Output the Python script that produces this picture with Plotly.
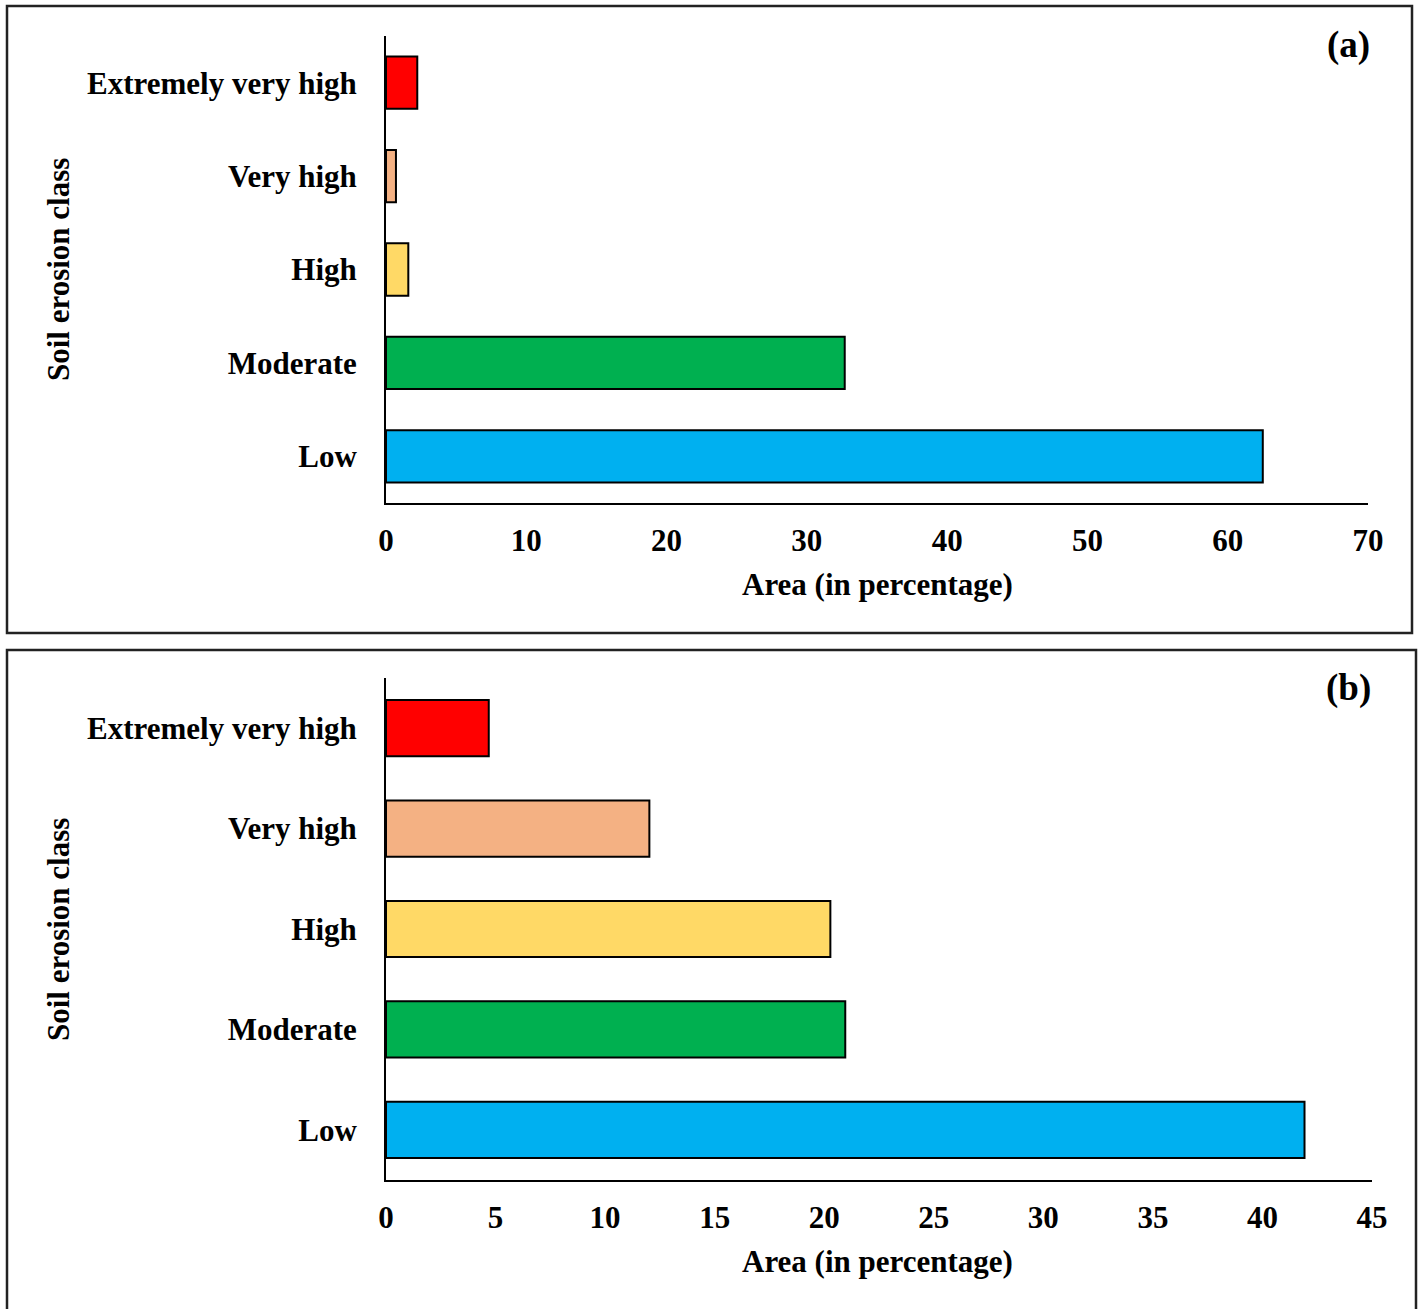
import plotly.graph_objects as go

W, H = 1424, 1309

categories = ["Low", "Moderate", "High", "Very high", "Extremely very high"]
colors = ["#00B0F0", "#00B050", "#FFD966", "#F4B183", "#FF0000"]
values_a = [62.5, 32.7, 1.59, 0.71, 2.23]
values_b = [41.92, 20.96, 20.28, 12.02, 4.69]
ticks_a = [0, 10, 20, 30, 40, 50, 60, 70]
ticks_b = [0, 5, 10, 15, 20, 25, 30, 35, 40, 45]

FONT = "Liberation Serif"
FS = 31

def px_x(v):
    return v / W

def px_y(v):
    return 1 - v / H

fig = go.Figure()
fig.add_trace(go.Bar(y=categories, x=values_a, orientation="h",
                     marker=dict(color=colors, line=dict(color="black", width=2)),
                     xaxis="x", yaxis="y", showlegend=False))
fig.add_trace(go.Bar(y=categories, x=values_b, orientation="h",
                     marker=dict(color=colors, line=dict(color="black", width=2)),
                     xaxis="x2", yaxis="y2", showlegend=False))

axfont = dict(family=FONT, size=FS, color="black", weight="bold")
labfont = dict(family=FONT, size=37, color="black", weight="bold")
common_x = dict(showline=True, linecolor="black", linewidth=2, showgrid=False,
                zeroline=False, ticks="", tickfont=axfont, ticklabelstandoff=9,
                automargin=False)
common_y = dict(showline=True, linecolor="black", linewidth=2, showgrid=False,
                zeroline=False, ticks="", tickfont=axfont, ticklabelstandoff=21,
                automargin=False,
                categoryorder="array", categoryarray=categories, range=[-0.5, 4.5])

fig.update_layout(
    width=W, height=H,
    margin=dict(l=0, r=0, t=0, b=0, pad=0, autoexpand=False),
    paper_bgcolor="white", plot_bgcolor="white",
    showlegend=False,
    bargap=0.44,
    font=dict(family=FONT, size=FS, color="black"),
    xaxis=dict(domain=[px_x(386), px_x(1368)], range=[0, 70], tickvals=ticks_a,
               anchor="y", **common_x),
    yaxis=dict(domain=[px_y(503), px_y(36)], anchor="x", **common_y),
    xaxis2=dict(domain=[px_x(386), px_x(1372)], range=[0, 45], tickvals=ticks_b,
                anchor="y2", **common_x),
    yaxis2=dict(domain=[px_y(1180), px_y(678)], anchor="x2", **common_y),
)

ann = []
for cy_title, cy_xt, label, ly in [(270, 585, "(a)", 45), (930, 1261, "(b)", 688)]:
    ann.append(dict(text="Soil erosion class", x=px_x(58), y=px_y(cy_title),
                    xref="paper", yref="paper", textangle=-90, showarrow=False,
                    xanchor="center", yanchor="middle", font=axfont))
    ann.append(dict(text="Area (in percentage)", x=px_x(877), y=px_y(cy_xt),
                    xref="paper", yref="paper", showarrow=False,
                    xanchor="center", yanchor="middle", font=axfont))
    ann.append(dict(text=label, x=px_x(1348), y=px_y(ly),
                    xref="paper", yref="paper", showarrow=False,
                    xanchor="center", yanchor="middle", font=labfont))
fig.update_layout(annotations=ann)

fig.update_layout(shapes=[
    dict(type="rect", xref="paper", yref="paper", x0=px_x(7), x1=px_x(1412),
         y0=px_y(633), y1=px_y(6), line=dict(color="#222", width=2.5)),
    dict(type="rect", xref="paper", yref="paper", x0=px_x(7), x1=px_x(1416),
         y0=px_y(1315), y1=px_y(650), line=dict(color="#222", width=2.5)),
])

fig.write_html("out.html", config={"displayModeBar": False},
               post_script="document.body.style.margin='0';document.body.style.overflow='hidden';")
